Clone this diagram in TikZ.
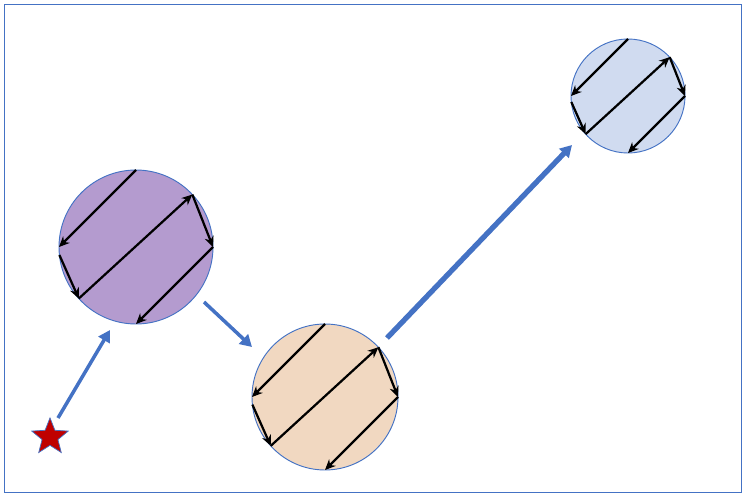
\documentclass[tikz,border=0pt]{standalone}
\usetikzlibrary{shapes.geometric,arrows.meta,calc}
\definecolor{edgeblue}{HTML}{4472C4}
\definecolor{purp}{HTML}{B49BCF}
\definecolor{peach}{HTML}{F1D8C1}
\definecolor{lblue}{HTML}{D0DBF0}
\tikzset{
  zz/.style={black,line width=1.9pt,-{Stealth[length=9pt,width=8pt]}},
  flow/.style={edgeblue,line width=3pt,-{Triangle[length=10pt,width=11pt]}},
  cell/.style={circle,draw=edgeblue,line width=0.8pt,inner sep=0pt}
}
\newcommand{\zigzag}[2]{%
  \draw[zz] ($(#1)+(90:#2)$) -- ($(#1)+(180:#2)$);
  \draw[zz] ($(#1)+(186:#2)$) -- ($(#1)+(222:#2)$);
  \draw[zz] ($(#1)+(222:#2)$) -- ($(#1)+(43:#2)$);
  \draw[zz] ($(#1)+(43:#2)$) -- ($(#1)+(0:#2)$);
  \draw[zz] ($(#1)+(0:#2)$) -- ($(#1)+(270:#2)$);
}
\begin{document}
\begin{tikzpicture}[x=0.03cm,y=-0.03cm]
\useasboundingbox (0,0) rectangle (747,503);
\draw[edgeblue,line width=0.8pt] (4,4) rectangle (741,492);
\node[cell,fill=purp,minimum size=154*0.03cm] (p) at (136,247) {};
\node[cell,fill=peach,minimum size=146*0.03cm] (o) at (325,397) {};
\node[cell,fill=lblue,minimum size=114*0.03cm] (b) at (628,96) {};
\zigzag{p}{2.31cm}
\zigzag{o}{2.19cm}
\zigzag{b}{1.71cm}
\node[star,star points=5,star point ratio=2.3,fill=red!75!black,draw=edgeblue,line width=0.6pt,minimum size=1.15cm,inner sep=0pt] (s) at (50,437) {};
\coordinate (s1) at (58,418); \coordinate (p1) at (110,330);
\coordinate (p2) at (204,302); \coordinate (o1) at (252,347);
\coordinate (o2) at (387,338); \coordinate (b1) at (572,145);
\draw[flow] (s1) -- (p1);
\draw[flow] (p2) -- (o1);
\draw[flow,line width=4.5pt] (o2) -- (b1);
\end{tikzpicture}
\end{document}
